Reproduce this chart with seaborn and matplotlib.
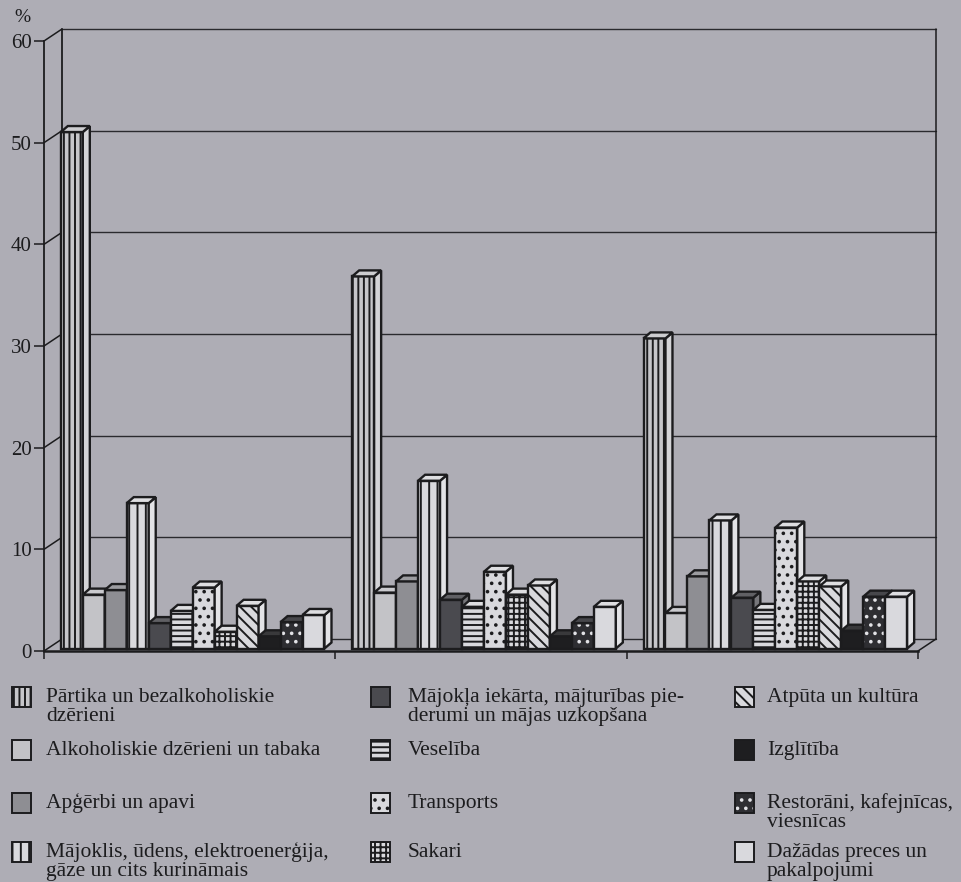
import numpy as np
import pandas as pd
import matplotlib
matplotlib.use("Agg")
import matplotlib.pyplot as plt
import matplotlib.transforms as mtransforms
from matplotlib.patches import Polygon, Rectangle
from matplotlib.colors import to_rgb
import seaborn as sns

# ---- data -------------------------------------------------------------
groups = ["1", "2", "3"]

categories = [
    "Pārtika un bezalkoholiskie dzērieni",
    "Alkoholiskie dzērieni un tabaka",
    "Apģērbi un apavi",
    "Mājoklis, ūdens, elektroenerģija, gāze un cits kurināmais",
    "Mājokļa iekārta, mājturības piederumi un mājas uzkopšana",
    "Veselība",
    "Transports",
    "Sakari",
    "Atpūta un kultūra",
    "Izglītība",
    "Restorāni, kafejnīcas, viesnīcas",
    "Dažādas preces un pakalpojumi",
]

legend_lines = [
    ["Pārtika un bezalkoholiskie", "dzērieni"],
    ["Alkoholiskie dzērieni un tabaka"],
    ["Apģērbi un apavi"],
    ["Mājoklis, ūdens, elektroenerģija,", "gāze un cits kurināmais"],
    ["Mājokļa iekārta, mājturības pie-", "derumi un mājas uzkopšana"],
    ["Veselība"],
    ["Transports"],
    ["Sakari"],
    ["Atpūta un kultūra"],
    ["Izglītība"],
    ["Restorāni, kafejnīcas,", "viesnīcas"],
    ["Dažādas preces un", "pakalpojumi"],
]

values_g1 = [50.8, 5.3, 5.75, 14.3, 2.5, 3.7, 6.0, 1.65, 4.2, 1.2, 2.6, 3.3]
values_g2 = [36.6, 5.5, 6.6, 16.5, 4.8, 4.1, 7.55, 5.3, 6.2, 1.2, 2.5, 4.1]
values_g3 = [30.5, 3.5, 7.1, 12.6, 5.0, 3.8, 11.9, 6.6, 6.1, 1.75, 5.1, 5.1]

y_ticks = [0, 10, 20, 30, 40, 50, 60]

# ---- styling ----------------------------------------------------------
BG = "#aeadb5"
INK = "#1c1c1e"
LIGHT = "#d9d9dd"

# fill colour, hatch, hatch colour for each category
fills = ["#c6c6ca", "#c3c3c7", "#8e8e93", LIGHT, "#4a4a4f", LIGHT,
         LIGHT, LIGHT, LIGHT, "#1e1e20", "#2e2e32", LIGHT]
hatches = ["|||", "", "", "||", "", "---", "..", "+++", "\\\\\\", "", "..", ""]
hatch_cols = [INK, INK, INK, INK, INK, INK, INK, INK, INK, INK, "#e2e2e6", INK]

sns.set_style("ticks")
plt.rcParams["font.family"] = ["Liberation Serif", "DejaVu Serif"]
plt.rcParams["hatch.linewidth"] = 1.4
plt.rcParams["axes.facecolor"] = BG
plt.rcParams["figure.facecolor"] = BG

W_PX, H_PX = 962, 882
fig = plt.figure(figsize=(W_PX / 100, H_PX / 100), dpi=100)
fig.patch.set_facecolor(BG)

ax_l, ax_r, ax_t, ax_b = 44, 918, 41, 651
ax = fig.add_axes([ax_l / W_PX, 1 - ax_b / H_PX,
                   (ax_r - ax_l) / W_PX, (ax_b - ax_t) / H_PX])
ax.set_facecolor("none")

df = pd.DataFrame({
    "grupa": np.repeat(groups, len(categories)),
    "kategorija": categories * len(groups),
    "procenti": values_g1 + values_g2 + values_g3,
})

sns.barplot(data=df, x="grupa", y="procenti", hue="kategorija",
            order=groups, hue_order=categories, palette=fills,
            saturation=1, width=0.905, errorbar=None, legend=False,
            edgecolor=INK, linewidth=1.6, ax=ax)

ax.set_xlim(-0.5, 2.5)
ax.set_ylim(0, 60)

# pixel -> data unit conversion for the pseudo-3D geometry
ux = ax.bbox.width / 3.0
uy = ax.bbox.height / 60.0
WALL = (18 / ux, 12 / uy)     # back wall depth
BAR = (7 / ux, 6 / uy)        # bar depth
bar_tr = ax.transData + mtransforms.Affine2D().translate(3, 2.5)


def mix(c, other, t):
    a = np.array(to_rgb(c))
    b = np.array(to_rgb(other))
    return tuple(a * (1 - t) + b * t)


def face(verts, fc, hatch, hc, z, tr):
    ax.add_patch(Polygon(verts, closed=True, facecolor=fc, edgecolor=hc,
                         hatch=hatch or None, linewidth=0, transform=tr,
                         zorder=z, clip_on=False))
    ax.add_patch(Polygon(verts, closed=True, fill=False, edgecolor=INK,
                         linewidth=1.7, joinstyle="miter", transform=tr,
                         zorder=z + 0.005, clip_on=False))


for i, cont in enumerate(ax.containers):
    z = 3 + 0.1 * i
    for p in cont.patches:
        x0, w, h = p.get_x(), p.get_width(), p.get_height()
        p.set_visible(False)
        dx, dy = BAR
        front = [(x0, 0), (x0 + w, 0), (x0 + w, h), (x0, h)]
        top = [(x0, h), (x0 + w, h), (x0 + w + dx, h + dy), (x0 + dx, h + dy)]
        side = [(x0 + w, 0), (x0 + w + dx, dy), (x0 + w + dx, h + dy), (x0 + w, h)]
        face(front, fills[i], hatches[i], hatch_cols[i], z, bar_tr)
        face(side, mix(fills[i], "white", 0.25), "", INK, z + 0.02, bar_tr)
        face(top, mix(fills[i], "white", 0.12), "", INK, z + 0.04, bar_tr)

# back wall, gridlines and the connectors to the front axis
xl, xr = -0.5, 2.5
wx, wy = WALL
for v in y_ticks:
    ax.plot([xl + wx, xr + wx], [v + wy, v + wy], color="#2a2a2e",
            lw=1.0, zorder=1, clip_on=False)
    ax.plot([xl, xl + wx], [v, v + wy], color=INK, lw=1.1, zorder=1,
            clip_on=False)
ax.plot([xl + wx, xl + wx], [wy, 60 + wy], color=INK, lw=1.3, zorder=1,
        clip_on=False)
ax.plot([xr + wx, xr + wx], [wy, 60 + wy], color=INK, lw=1.1, zorder=1,
        clip_on=False)
ax.plot([xr, xr + wx], [0, wy], color=INK, lw=1.1, zorder=1, clip_on=False)

# axes
for s in ("top", "right"):
    ax.spines[s].set_visible(False)
ax.spines["left"].set_linewidth(1.3)
ax.spines["bottom"].set_linewidth(1.8)
ax.spines["left"].set_color(INK)
ax.spines["bottom"].set_color(INK)
ax.set_yticks(y_ticks)
ax.set_yticklabels([str(v) for v in y_ticks])
ax.set_xticks([-0.5, 0.5, 1.5, 2.5])
ax.set_xticklabels([])
ax.tick_params(axis="y", direction="out", length=7.5, width=1.1, pad=1.5,
               labelsize=15, colors=INK)
ax.tick_params(axis="x", direction="out", length=6, width=1.1, colors=INK)
ax.set_xlabel("")
ax.set_ylabel("")
ax.grid(False)

fig.text(22 / W_PX, 1 - 22 / H_PX, "%", fontsize=14, color=INK,
         ha="center", va="baseline")

# legend: three columns, four rows
col_icon_x = [12, 371, 735]
col_text_x = [46, 408, 767]
row_base = [702, 755, 808, 857]
line_gap = 19
FS = 15.5
for k, lines in enumerate(legend_lines):
    c, r = divmod(k, 4)
    base = row_base[r]
    ix = col_icon_x[c]
    rect_args = dict(xy=(ix / W_PX, 1 - (base + 5) / H_PX),
                     width=19 / W_PX, height=20 / H_PX,
                     transform=fig.transFigure)
    fig.add_artist(Rectangle(**rect_args, facecolor=fills[k],
                             edgecolor=hatch_cols[k],
                             hatch=hatches[k] or None, linewidth=0))
    fig.add_artist(Rectangle(**rect_args, fill=False, edgecolor=INK,
                             linewidth=1.4))
    for j, line in enumerate(lines):
        fig.text(col_text_x[c] / W_PX, 1 - (base + j * line_gap) / H_PX,
                 line, fontsize=FS, color=INK, ha="left", va="baseline")

fig.savefig("out.png", dpi=100, facecolor=BG)
